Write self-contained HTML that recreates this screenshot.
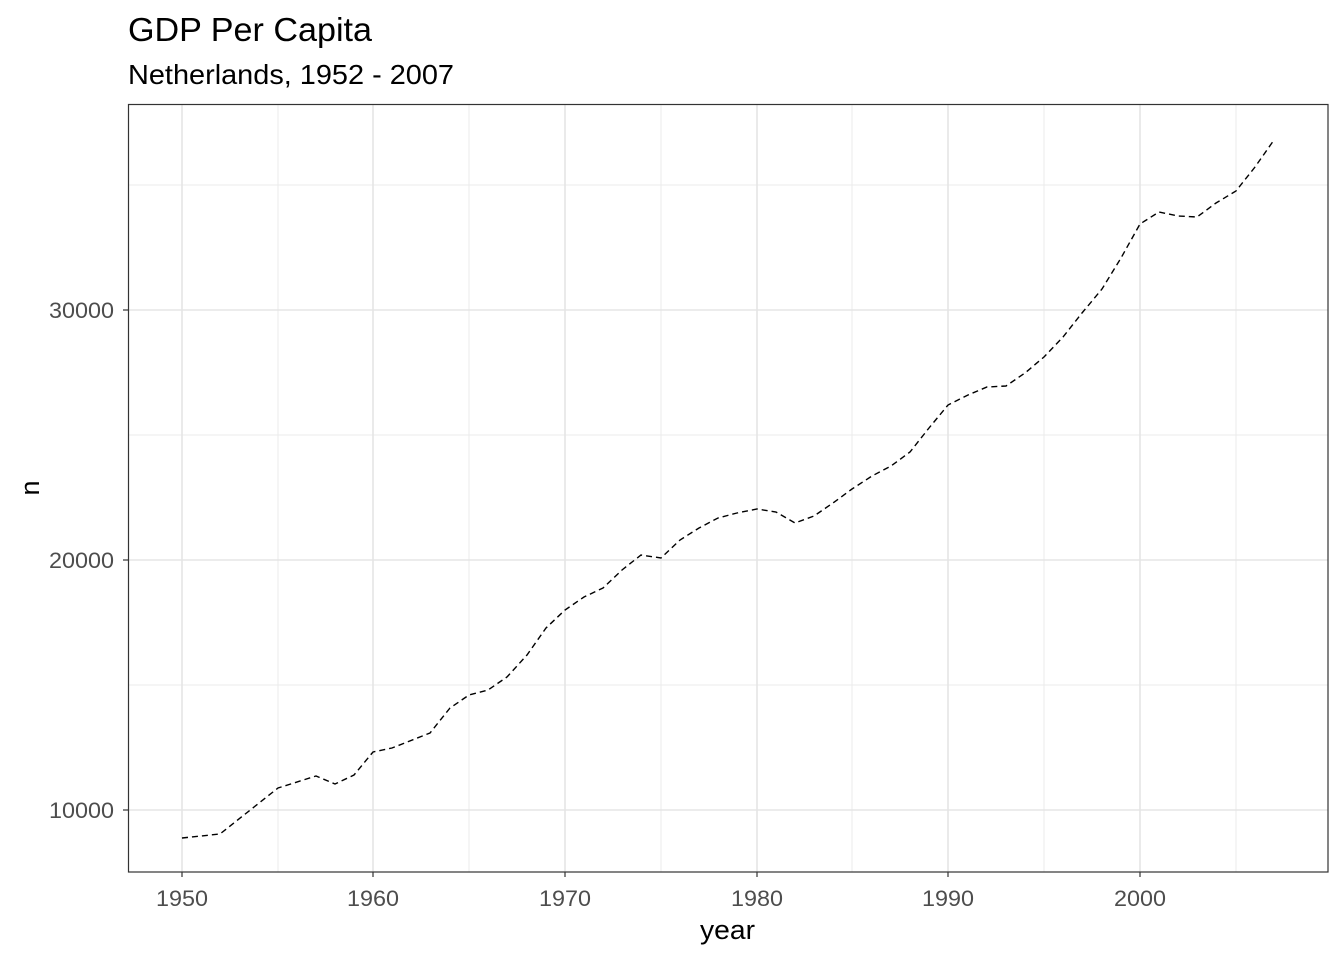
<!DOCTYPE html>
<html><head><meta charset="utf-8"><style>
html,body{margin:0;padding:0;background:#fff;}
svg text{font-family:"Liberation Sans",Arial,sans-serif;}
</style></head><body>
<svg width="1344" height="960" viewBox="0 0 1344 960" xmlns="http://www.w3.org/2000/svg">
<rect width="1344" height="960" fill="#fff"/>
<g stroke="#ebebeb" stroke-width="1">
<line x1="128" x2="1328" y1="185" y2="185"/><line x1="128" x2="1328" y1="435" y2="435"/><line x1="128" x2="1328" y1="685" y2="685"/>
<line x1="278" x2="278" y1="104" y2="872"/><line x1="469" x2="469" y1="104" y2="872"/><line x1="661" x2="661" y1="104" y2="872"/><line x1="852" x2="852" y1="104" y2="872"/><line x1="1044" x2="1044" y1="104" y2="872"/><line x1="1236" x2="1236" y1="104" y2="872"/>
</g>
<g stroke="#e5e5e5" stroke-width="1.6">
<line x1="128" x2="1328" y1="310" y2="310"/><line x1="128" x2="1328" y1="560" y2="560"/><line x1="128" x2="1328" y1="810" y2="810"/>
<line x1="182" x2="182" y1="104" y2="872"/><line x1="373" x2="373" y1="104" y2="872"/><line x1="565" x2="565" y1="104" y2="872"/><line x1="757" x2="757" y1="104" y2="872"/><line x1="948" x2="948" y1="104" y2="872"/><line x1="1140" x2="1140" y1="104" y2="872"/>
</g>
<polyline fill="none" stroke="#000" stroke-width="1.4" stroke-dasharray="6,4" points="182,838 220,834 278,788 316,776 335,784 354,775 373,752 392,748 430,733 450,708 469,695 488,690 507,677 527,655 546,628 565,610 584,597 603,588 622,570 641,555 661,558 680,540 699,528 718,518 737,513 757,509 776,512 795,523 814,516 833,503 852,489 872,476 891,466 910,452 929,428 948,405 968,395 987,387 1006,386 1025,373 1044,357 1063,337 1082,313 1102,289 1121,258 1140,224 1159,212 1178,216 1197,217 1216,203 1236,191 1255,167 1274,140"/>
<rect x="128.5" y="104.5" width="1199.5" height="767.5" fill="none" stroke="#333" stroke-width="1.2"/>
<g stroke="#333" stroke-width="1.2">
<line x1="123" x2="128" y1="310" y2="310"/><line x1="123" x2="128" y1="560" y2="560"/><line x1="123" x2="128" y1="810" y2="810"/>
<line x1="182" x2="182" y1="872" y2="877"/><line x1="373" x2="373" y1="872" y2="877"/><line x1="565" x2="565" y1="872" y2="877"/><line x1="757" x2="757" y1="872" y2="877"/><line x1="948" x2="948" y1="872" y2="877"/><line x1="1140" x2="1140" y1="872" y2="877"/>
</g>
<g fill="#4d4d4d" font-size="22">
<text x="49" y="318" textLength="65" lengthAdjust="spacingAndGlyphs">30000</text><text x="49" y="568" textLength="65" lengthAdjust="spacingAndGlyphs">20000</text><text x="49" y="818" textLength="65" lengthAdjust="spacingAndGlyphs">10000</text>
</g>
<g fill="#4d4d4d" font-size="22">
<text x="156" y="906" textLength="52" lengthAdjust="spacingAndGlyphs">1950</text><text x="347" y="906" textLength="52" lengthAdjust="spacingAndGlyphs">1960</text><text x="539" y="906" textLength="52" lengthAdjust="spacingAndGlyphs">1970</text><text x="731" y="906" textLength="52" lengthAdjust="spacingAndGlyphs">1980</text><text x="922" y="906" textLength="52" lengthAdjust="spacingAndGlyphs">1990</text><text x="1114" y="906" textLength="52" lengthAdjust="spacingAndGlyphs">2000</text>
</g>
<text x="700" y="939" font-size="27" fill="#000" textLength="55" lengthAdjust="spacingAndGlyphs">year</text>
<text x="0" y="0" font-size="27" text-anchor="middle" fill="#000" transform="translate(39,488) rotate(-90)">n</text>
<text x="128" y="41" font-size="33" fill="#000" textLength="244" lengthAdjust="spacingAndGlyphs">GDP Per Capita</text>
<text x="128" y="84" font-size="28" fill="#000" textLength="326" lengthAdjust="spacingAndGlyphs">Netherlands, 1952 - 2007</text>
</svg>
</body></html>
